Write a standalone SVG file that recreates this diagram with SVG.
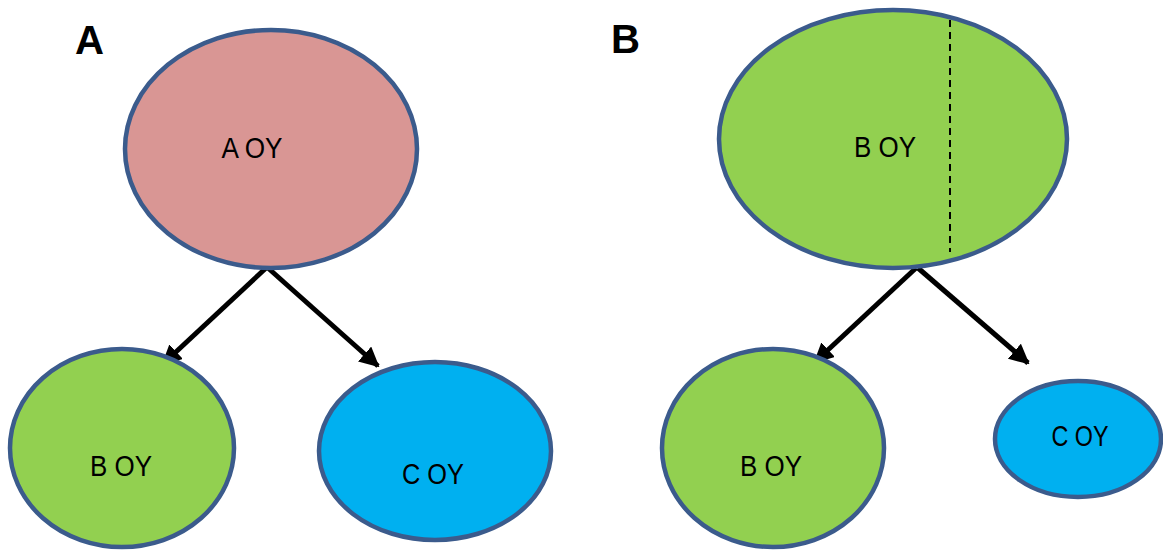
<svg xmlns="http://www.w3.org/2000/svg" width="1163" height="551" viewBox="0 0 1163 551">
<style>
.node{stroke:#3b5b8c;stroke-width:4.5}
.pink{fill:#d99694}
.green{fill:#92d050}
.blue{fill:#00b0f0}
.lbl{font-family:"Liberation Sans",Arial,sans-serif;font-size:30px;fill:#000;text-anchor:middle}
.panel{font-family:"Liberation Sans",Arial,sans-serif;font-size:40px;font-weight:bold;fill:#000}
.arrow{stroke:#000;stroke-width:5;fill:none;marker-end:url(#ah)}
</style>
<defs>
<marker id="ah" viewBox="0 0 10 10" refX="9" refY="5" markerWidth="4" markerHeight="4" markerUnits="strokeWidth" orient="auto">
<path d="M0,0 L10,5 L0,10 z" fill="#000"/>
</marker>
</defs>
<text class="panel" x="75" y="54" textLength="29" lengthAdjust="spacingAndGlyphs">A</text>
<text class="panel" x="611" y="53" textLength="29" lengthAdjust="spacingAndGlyphs">B</text>
<g id="connectors">
<line class="arrow" x1="266" y1="268" x2="163" y2="364"/>
<line class="arrow" x1="268" y1="268" x2="378" y2="366"/>
<line class="arrow" x1="916" y1="268" x2="815" y2="362"/>
<line class="arrow" x1="918" y1="268" x2="1028" y2="363"/>
</g>
<g id="nodeA">
<ellipse class="node pink" cx="271" cy="149" rx="146" ry="119"/>
<text class="lbl" x="252" y="158" textLength="61" lengthAdjust="spacingAndGlyphs">A OY</text>
</g>
<g id="nodeB1">
<ellipse class="node green" cx="122" cy="448" rx="112" ry="99"/>
<text class="lbl" x="121" y="476" textLength="62" lengthAdjust="spacingAndGlyphs">B OY</text>
</g>
<g id="nodeC1">
<ellipse class="node blue" cx="435" cy="451" rx="116" ry="89"/>
<text class="lbl" x="433" y="484" textLength="62" lengthAdjust="spacingAndGlyphs">C OY</text>
</g>
<g id="nodeB2top">
<ellipse class="node green" cx="893" cy="139" rx="174" ry="129"/>
<line x1="950" y1="20" x2="950" y2="252" stroke="#000" stroke-width="2" stroke-dasharray="7,5"/>
<text class="lbl" x="885" y="157" textLength="62" lengthAdjust="spacingAndGlyphs">B OY</text>
</g>
<g id="nodeB2">
<ellipse class="node green" cx="773" cy="448" rx="111" ry="99"/>
<text class="lbl" x="771" y="476" textLength="62" lengthAdjust="spacingAndGlyphs">B OY</text>
</g>
<g id="nodeC2">
<ellipse class="node blue" cx="1078" cy="439" rx="83" ry="58"/>
<text class="lbl" x="1080" y="446" textLength="57" lengthAdjust="spacingAndGlyphs">C OY</text>
</g>
</svg>
